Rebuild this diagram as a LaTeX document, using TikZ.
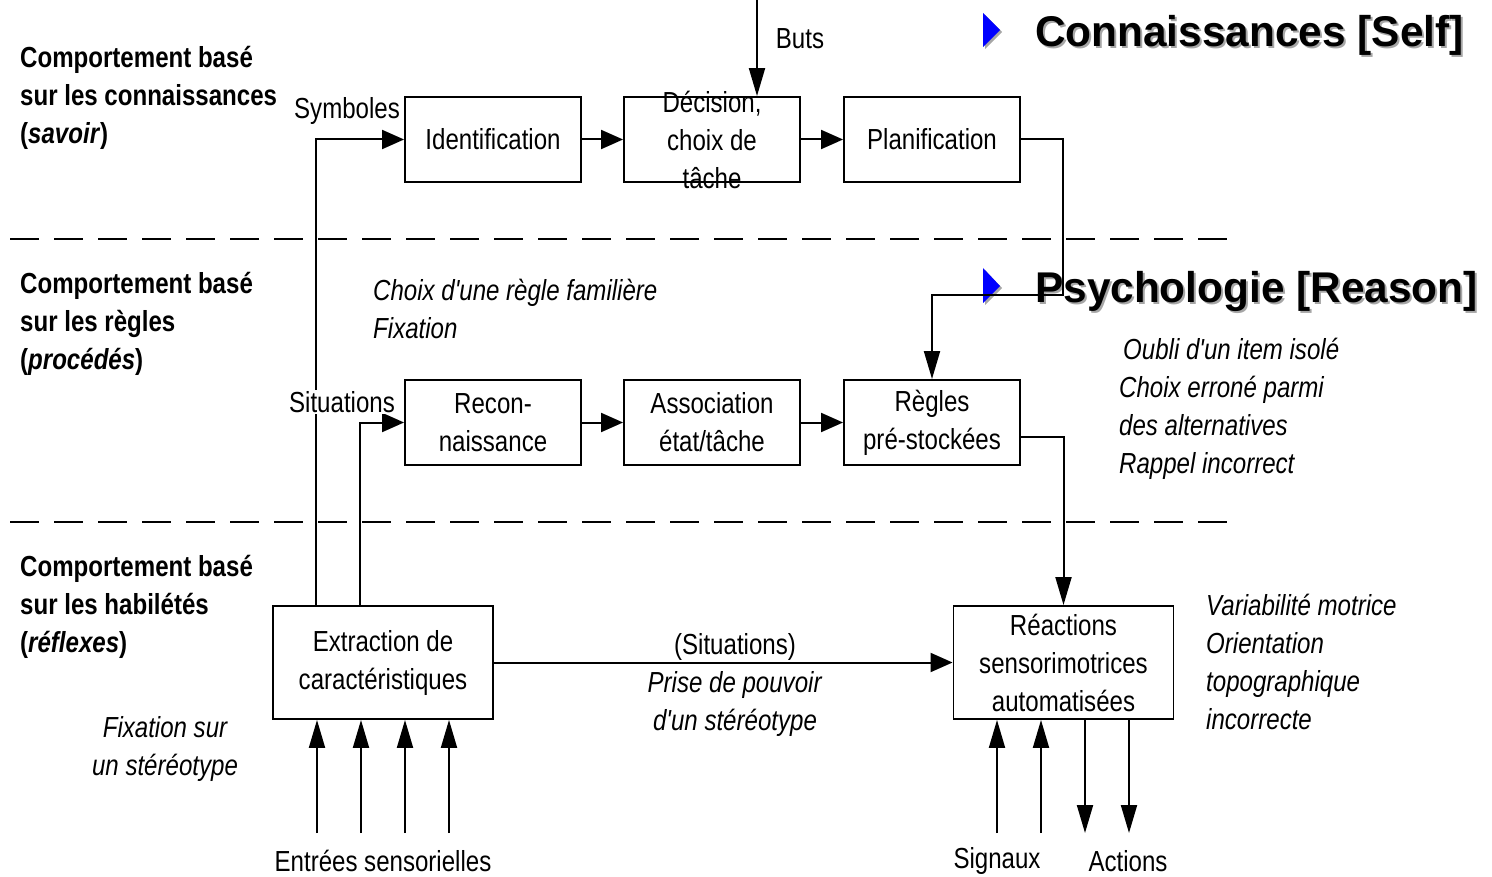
\documentclass[tikz,border=0pt]{standalone}
\usepackage{fontspec}
\setmainfont[FakeStretch=0.83, Ligatures=TeXOff]{Liberation Sans}
\newfontfamily\headfont[FakeStretch=0.985]{Liberation Sans}
\usetikzlibrary{arrows.meta}

\tikzset{
  txt/.style={inner sep=0pt, font=\fontsize{29}{38}\selectfont},
  lefttxt/.style={txt, align=left, anchor=west},
  ctrtxt/.style={txt, align=center},
  box/.style={draw, line width=1.9pt, inner sep=0pt,
    minimum width=176pt, minimum height=85pt},
  bigbox/.style={box, minimum width=220pt, minimum height=113pt},
  boxlabel/.style={txt, align=center},
  wire/.style={line width=2pt},
  harr/.style={wire, -{Triangle[length=22pt,width=19pt]}},
  varr/.style={wire, -{Triangle[length=28pt,width=16pt]}},
  levelsep/.style={line width=1.8pt, dash pattern=on 29pt off 15pt},
  headtxt/.style={inner sep=0pt, anchor=base west,
    font=\headfont\bfseries\fontsize{43}{50}\selectfont},
  marker/.style={fill=blue, draw=none},
  markershade/.style={fill=black!35, draw=none},
}

\begin{document}
\begin{tikzpicture}[x=1pt, y=-1pt]
\useasboundingbox (0,0) rectangle (1492,877);

% ---- level separators
\draw[levelsep] (10,239) -- (1241,239);
\draw[levelsep] (10,522) -- (1241,522);

% ---- section headings with drop shadow
\fill[markershade] (985,15) -- (985,49) -- (1002,32) -- cycle;
\fill[marker] (983,13) -- (983,47) -- (1000,30) -- cycle;
\node[headtxt, text=black!35] (head1s) at (1037,49) {Connaissances [Self]};
\node[headtxt] (head1) at (1035,47) {Connaissances [Self]};

\fill[markershade] (985,270) -- (985,305) -- (1002,288) -- cycle;
\fill[marker] (983,268) -- (983,303) -- (1000,286) -- cycle;
\node[headtxt, text=black!35] (head2s) at (1037,305) {Psychologie [Reason]};
\node[headtxt] (head2) at (1035,303) {Psychologie [Reason]};

% ---- level names
\node[lefttxt] (lvlK) at (20,98)
  {\textbf{Comportement basé}\\\textbf{sur les connaissances}\\\textbf{(\textit{savoir})}};
\node[lefttxt] (lvlR) at (20,324)
  {\textbf{Comportement basé}\\\textbf{sur les règles}\\\textbf{(\textit{procédés})}};
\node[lefttxt] (lvlS) at (20,607)
  {\textbf{Comportement basé}\\\textbf{sur les habilétés}\\\textbf{(\textit{réflexes})}};

% ---- error annotations
\node[lefttxt] (errR) at (373,309)
  {\itshape Choix d'une règle familière\\\itshape Fixation};
\node[lefttxt] (errK) at (1119,409)
  {\itshape\hspace*{4pt}Oubli d'un item isolé\\\itshape Choix erroné parmi\\\itshape des alternatives\\\itshape Rappel incorrect};
\node[lefttxt] (errM) at (1206,662)
  {\itshape Variabilité motrice\\\itshape Orientation\\\itshape topographique\\\itshape incorrecte};
\node[ctrtxt] (errS) at (165,749)
  {\itshape Fixation sur\\\itshape un stéréotype};

% ---- processing boxes
\node[box, label={[boxlabel]center:Identification}] (ident) at (493,139.5) {};
\node[box, label={[boxlabel]center:{Décision,\\choix de\\tâche}}] (dec) at (712,139.5) {};
\node[box, label={[boxlabel]center:Planification}] (plan) at (932,139.5) {};

\node[box, label={[boxlabel]center:{Recon-\\naissance}}] (recon) at (493,422.5) {};
\node[box, label={[boxlabel]center:{Association\\état/tâche}}] (assoc) at (712,422.5) {};
\node[box, label={[boxlabel]center:{Règles\\pré-stockées}}] (regles) at (932,422.5) {};

\node[bigbox, label={[boxlabel]center:{Extraction de\\caractéristiques}}] (ext) at (383,662.5) {};
\node[bigbox, label={[boxlabel]center:{Réactions\\sensorimotrices\\automatisées}}] (react) at (1063.5,662.5) {};

% ---- free ends and bends
\coordinate (butsTop) at (757,0);
\coordinate (kink) at (1063,295);
\coordinate (in1) at (317,833);
\coordinate (in2) at (361,833);
\coordinate (in3) at (405,833);
\coordinate (in4) at (449,833);
\coordinate (sig1) at (997,833);
\coordinate (sig2) at (1041,833);
\coordinate (act1) at (1085,833);
\coordinate (act2) at (1129,833);

% ---- connector labels
\node[ctrtxt] (lbuts) at (800,39) {Buts};
\node[ctrtxt] (lsym) at (347,111) {Symboles};
\node[ctrtxt] (lmid) at (735,685)
  {(Situations)\\\textit{Prise de pouvoir}\\\textit{d'un stéréotype}};
\node[ctrtxt] (lin) at (383,861) {Entrées sensorielles};
\node[ctrtxt] (lsig) at (997,861) {Signaux};
\node[ctrtxt] (lact) at (1128,861) {Actions};

% ---- connectors
\draw[varr] (butsTop) -- (butsTop |- dec.north);
\draw[harr] (ident) -- (dec);
\draw[harr] (dec) -- (plan);
\draw[harr] (recon) -- (assoc);
\draw[harr] (assoc) -- (regles);
\draw[varr] (plan.east) -| (kink) -| (regles.north);
\draw[varr] ([yshift=-14pt]regles.east) -| (react.north);
\draw[harr] ([xshift=44pt]ext.north west) |- (ident.west);
\draw[harr] ([xshift=88pt]ext.north west) |- (recon.west);
\draw[harr] (ext.east) -- (react.west);
\foreach \p in {in1,in2,in3,in4}
  \draw[varr] (\p) -- (\p |- ext.south);
\foreach \p in {sig1,sig2}
  \draw[varr] (\p) -- (\p |- react.south);
\foreach \p in {act1,act2}
  \draw[varr] (\p |- react.south) -- (\p);

% label drawn over the Symboles wire
\node[ctrtxt, fill=white, inner sep=1pt] (lsit) at (342,402) {Situations};
\end{tikzpicture}
\end{document}
